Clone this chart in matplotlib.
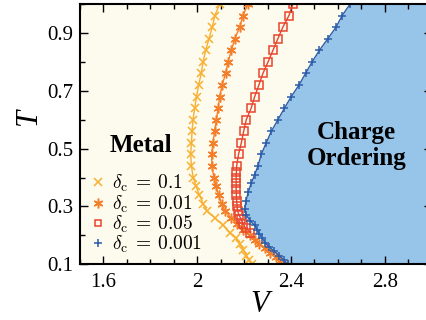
import matplotlib
matplotlib.use('Agg')
import matplotlib.pyplot as plt
from matplotlib.lines import Line2D
from matplotlib.ticker import MultipleLocator, FixedLocator

plt.rcParams['font.family'] = 'serif'
plt.rcParams['font.serif'] = ['Liberation Serif', 'DejaVu Serif']
plt.rcParams['mathtext.fontset'] = 'cm'

# 數據 (V, T) 讀自原圖
T_y = [1.00, 0.96, 0.92, 0.88, 0.84, 0.80, 0.76, 0.72, 0.68, 0.64, 0.60, 0.56, 0.52, 0.48,
       0.44, 0.40, 0.37, 0.34, 0.31, 0.285, 0.26, 0.235, 0.21, 0.19, 0.17, 0.15, 0.13, 0.115, 0.10]
V_y = [2.096, 2.075, 2.064, 2.050, 2.036, 2.025, 2.017, 2.006, 1.997, 1.989, 1.982, 1.978, 1.975, 1.972,
       1.975, 1.983, 1.995, 2.009, 2.025, 2.042, 2.075, 2.110, 2.140, 2.165, 2.182, 2.196, 2.210, 2.222, 2.235]

T_o = [1.00, 0.96, 0.92, 0.88, 0.84, 0.80, 0.76, 0.72, 0.68, 0.64, 0.60, 0.56, 0.52, 0.48, 0.44,
       0.40, 0.37, 0.34, 0.31, 0.285, 0.26, 0.24, 0.22, 0.20, 0.185, 0.17, 0.155, 0.14, 0.125, 0.11, 0.10]
V_o = [2.216, 2.195, 2.181, 2.160, 2.146, 2.131, 2.121, 2.106, 2.096, 2.089, 2.082, 2.074, 2.067, 2.061, 2.063,
       2.071, 2.080, 2.091, 2.104, 2.118, 2.145, 2.170, 2.195, 2.225, 2.245, 2.265, 2.287, 2.310, 2.335, 2.355, 2.368]

T_r = [1.00, 0.96, 0.92, 0.88, 0.84, 0.80, 0.76, 0.72, 0.68, 0.64, 0.60, 0.56, 0.52, 0.48, 0.44,
       0.42, 0.40, 0.38, 0.36, 0.34, 0.32, 0.30, 0.285, 0.27, 0.255, 0.24, 0.225, 0.21]
V_r = [2.408, 2.391, 2.365, 2.344, 2.323, 2.302, 2.280, 2.263, 2.245, 2.230, 2.209, 2.198, 2.188, 2.176, 2.168,
       2.167, 2.166, 2.166, 2.166, 2.167, 2.168, 2.170, 2.172, 2.178, 2.188, 2.196, 2.206, 2.226]

T_b = [1.00, 0.96, 0.92, 0.88, 0.84, 0.80, 0.76, 0.72, 0.68, 0.64, 0.60, 0.56, 0.52, 0.48, 0.44, 0.41,
       0.38, 0.35, 0.32, 0.29, 0.27, 0.25, 0.235, 0.22, 0.205, 0.19, 0.175, 0.16, 0.145, 0.13, 0.115, 0.10]
V_b = [2.652, 2.618, 2.592, 2.557, 2.521, 2.490, 2.462, 2.434, 2.401, 2.372, 2.344, 2.316, 2.294, 2.273, 2.259, 2.245,
       2.230, 2.218, 2.208, 2.202, 2.210, 2.225, 2.245, 2.255, 2.265, 2.277, 2.290, 2.307, 2.328, 2.350, 2.368, 2.386]

labels = [r'$\delta_{\rm c}\:=\:0.1$', r'$\delta_{\rm c}\:=\:0.01$', r'$\delta_{\rm c}\:=\:0.05$', r'$\delta_{\rm c}\:=\:0.001$']
xtick_vals = [1.6, 2.0, 2.4, 2.8]
xtick_labels = ['1.6', '2', '2.4', '2.8']
ytick_vals = [0.1, 0.3, 0.5, 0.7, 0.9]

c_y = '#F7B030'
c_o = '#F47F2A'
c_r = '#E8452E'
c_b = '#2C5DA8'
c_fill = '#97C4E9'
c_bg = '#FDFAEE'

fig = plt.figure(figsize=(4.27, 3.2), dpi=100)
ax = fig.add_axes([0.1874, 0.174, 0.8236, 0.8134])
ax.set_facecolor(c_bg)

ax.fill_betweenx(T_b, V_b, 3.2, color=c_fill, lw=0, zorder=1)

ax.plot(V_y, T_y, color=c_y, lw=1, marker='x', ms=6, mew=1.1, zorder=3)
ax.plot(V_o, T_o, color=c_o, lw=1, marker=(6, 2, 0), ms=7, mew=1.1, zorder=3)
ax.plot(V_r, T_r, color=c_r, lw=1, marker='s', ms=6, mew=1.1, mfc='none', zorder=3)
ax.plot(V_b, T_b, color=c_b, lw=1, marker='+', ms=6, mew=1.1, zorder=4)

handles = [
    Line2D([], [], ls='none', marker='x', color=c_y, ms=6, mew=1.1),
    Line2D([], [], ls='none', marker=(6, 2, 0), color=c_o, ms=7, mew=1.1),
    Line2D([], [], ls='none', marker='s', color=c_r, ms=5, mew=1.1, mfc='none'),
    Line2D([], [], ls='none', marker='+', color=c_b, ms=6, mew=1.1),
]
ax.legend(handles, labels, loc='center left', bbox_to_anchor=(-0.01, 0.192), frameon=False,
          fontsize=14, handlelength=0.8, handletextpad=0.35, labelspacing=-0.05, borderpad=0.2)

ax.text(1.76, 0.511, 'Metal', fontsize=18, fontweight='bold', ha='center', va='center', zorder=5)
ax.text(2.679, 0.511, 'Charge\nOrdering', fontsize=18, fontweight='bold', ha='center', va='center',
        linespacing=1.15, zorder=5)

ax.set_xlim(1.5, 3.0)
ax.set_ylim(0.1, 1.0)
ax.xaxis.set_major_locator(FixedLocator(xtick_vals))
ax.set_xticklabels(xtick_labels)
ax.xaxis.set_minor_locator(MultipleLocator(0.1))
ax.yaxis.set_major_locator(FixedLocator(ytick_vals))
ax.yaxis.set_minor_locator(MultipleLocator(0.1))

ax.tick_params(which='both', direction='in', top=True, right=True, labelsize=15, width=1)
ax.tick_params(which='major', length=5.5)
ax.tick_params(which='minor', length=3.5)
ax.tick_params(axis='x', pad=6)
ax.tick_params(axis='y', pad=5)
for s in ax.spines.values():
    s.set_linewidth(1.5)
    s.set_zorder(6)

ax.set_xlabel('V', fontsize=22, fontstyle='italic')
ax.set_ylabel('T', fontsize=22, fontstyle='italic', rotation=90)
ax.xaxis.set_label_coords(0.512, -0.10)
ax.yaxis.set_label_coords(-0.105, 0.566)

plt.savefig('out.png', dpi=100)
